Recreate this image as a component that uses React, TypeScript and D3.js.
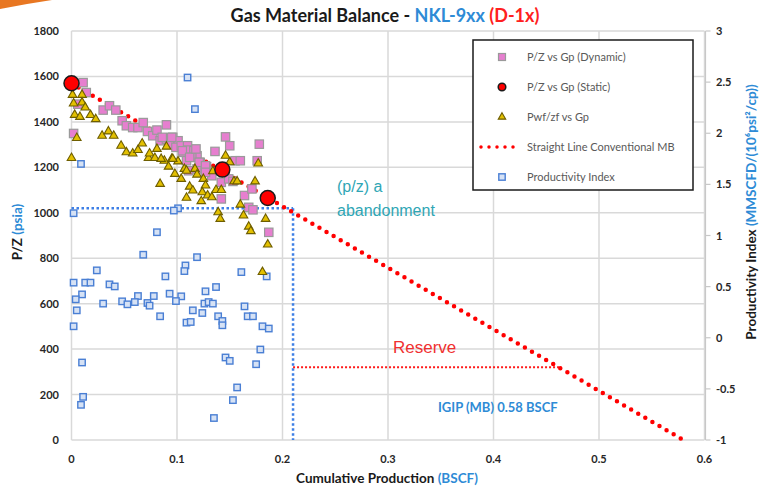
import * as React from "react";
import * as d3 from "d3";

// P/Z vs Gp (Dynamic)
const dynGp = [0.011, 0.002, 0.014, 0.006, 0.030, 0.036, 0.042, 0.048, 0.052, 0.058, 0.063, 0.068, 0.072, 0.077,
  0.081, 0.090, 0.084, 0.090, 0.096, 0.101, 0.093, 0.099, 0.104, 0.110, 0.106, 0.111, 0.116, 0.119, 0.114, 0.122,
  0.128, 0.133, 0.136, 0.146, 0.150, 0.155, 0.160, 0.178, 0.176, 0.142, 0.149, 0.153, 0.142, 0.164, 0.171, 0.168,
  0.172, 0.187, 0.111, 0.119, 0.109, 0.086, 0.095, 0.105, 0.112, 0.118, 0.121, 0.127, 0.127];
const dynPz = [1573, 1349, 1529, 1478, 1452, 1471, 1452, 1405, 1383, 1375, 1375, 1397, 1358, 1339,
  1364, 1387, 1317, 1324, 1332, 1317, 1302, 1288, 1295, 1295, 1266, 1276, 1273, 1251, 1244, 1222,
  1203, 1163, 1270, 1334, 1295, 1229, 1229, 1302, 1229, 1134, 1149, 1138, 1061, 1076, 1105, 1024,
  1013, 914, 1185, 1193, 1229, 1332, 1332, 1273, 1244, 1281, 1222, 1207, 1178];

// P/Z vs Gp (Static)
const staticGp = [0, 0.143, 0.186];
const staticPz = [1570, 1190, 1065];

// Pwf/zf vs Gp
const pwfGp = [0.001, 0.010, 0.002, 0.010, 0.013, 0.003, 0.008, 0.018, 0.023, 0.005, 0.029, 0.035, 0.040, 0.047,
  0.052, 0.058, 0.063, 0.067, 0.073, 0.074, 0.081, 0.079, 0.090, 0.088, 0.095, 0.092, 0.098, 0.000, 0.084, 0.101,
  0.085, 0.096, 0.104, 0.107, 0.109, 0.112, 0.115, 0.109, 0.117, 0.119, 0.125, 0.127, 0.124, 0.129, 0.133, 0.123,
  0.134, 0.146, 0.150, 0.137, 0.142, 0.154, 0.157, 0.174, 0.177, 0.160, 0.139, 0.141, 0.163, 0.184, 0.168, 0.170,
  0.186, 0.181];
const pwfPz = [1519, 1519, 1481, 1485, 1463, 1431, 1422, 1430, 1412, 1329, 1339, 1358, 1339, 1295,
  1266, 1261, 1276, 1305, 1241, 1261, 1281, 1241, 1291, 1229, 1237, 1203, 1171, 1241, 1127, 1226,
  1237, 1237, 1149, 1193, 1185, 1115, 1098, 1066, 1193, 1168, 1149, 1120, 1090, 1076, 1068, 1051,
  1183, 1251, 1222, 1100, 1100, 1138, 1138, 1138, 1217, 1036, 1002, 973, 988, 973, 939, 919,
  860, 739];

// Productivity Index
const piGp = [0.110, 0.117, 0.009, 0.002, 0.101, 0.097, 0.081, 0.068, 0.119, 0.108, 0.107, 0.024, 0.161, 0.185,
  0.089, 0.002, 0.013, 0.018, 0.036, 0.041, 0.137, 0.127, 0.010, 0.004, 0.063, 0.078, 0.093, 0.104, 0.099, 0.030,
  0.048, 0.053, 0.060, 0.072, 0.074, 0.005, 0.084, 0.115, 0.126, 0.130, 0.134, 0.124, 0.139, 0.143, 0.143, 0.109,
  0.113, 0.164, 0.167, 0.172, 0.181, 0.187, 0.002, 0.179, 0.146, 0.150, 0.175, 0.010, 0.157, 0.153, 0.011, 0.009,
  0.135];
const piVal = [2.545, 2.236, 1.700, 1.218, 1.266, 1.244, 1.032, 0.812, 0.788, 0.707, 0.652, 0.659, 0.642, 0.600,
  0.600, 0.539, 0.539, 0.539, 0.522, 0.502, 0.496, 0.454, 0.424, 0.376, 0.408, 0.408, 0.431, 0.405, 0.359, 0.334,
  0.356, 0.327, 0.349, 0.340, 0.314, 0.268, 0.210, 0.268, 0.334, 0.349, 0.334, 0.242, 0.210, 0.164, 0.122, 0.148,
  0.154, 0.307, 0.210, 0.210, 0.112, 0.090, 0.112, -0.115, -0.193, -0.226, -0.259, -0.242, -0.486, -0.610, -0.578, -0.656,
  -0.785];

// Straight line conventional MB and annotations
const mbGp = [0, 0.58];
const mbPz = [1570, 0];
const abandonPz = 1020;
const abandonGp = 0.21;
const reservePz = 320;
const reserveGp = [0.21, 0.462];

const xTicks = [0, 0.1, 0.2, 0.3, 0.4, 0.5, 0.6];
const yTicks = [0, 200, 400, 600, 800, 1000, 1200, 1400, 1600, 1800];
const rTicks = [-1, -0.5, 0, 0.5, 1, 1.5, 2, 2.5, 3];

const font = "Lato, Carlito, 'Open Sans', sans-serif";
const blue = "#2e8bd6";

const tri = d3.symbol().type(d3.symbolTriangle).size(32)();

export default function App() {
  const x = d3.scaleLinear().domain([0, 0.6]).range([71.5, 704.5]);
  const y = d3.scaleLinear().domain([0, 1800]).range([440, 31]);
  const yR = d3.scaleLinear().domain([-1, 3]).range([440, 31]);
  const line = d3.line<number>().x((d, i) => x(mbGp[i])).y((d) => y(d));

  const pinkSq = (cx: number, cy: number, k: any) => (
    <rect key={k} x={cx - 4.2} y={cy - 4.2} width={8.4} height={8.4} fill="#e67fcf" stroke="#9a9a9a" strokeWidth={1.2} />
  );
  const yTri = (cx: number, cy: number, k: any) => (
    <path key={k} d={tri} transform={`translate(${cx},${cy})`} fill="#e3c000" stroke="#6e5e00" strokeWidth={1.1} />
  );
  const blueSq = (cx: number, cy: number, k: any) => (
    <rect key={k} x={cx - 3.2} y={cy - 3.2} width={6.4} height={6.4} fill="#d6e2f5" stroke="#4a7fd4" strokeWidth={1.4} />
  );
  const redDot = (cx: number, cy: number, k: any, r = 7.5) => (
    <circle key={k} cx={cx} cy={cy} r={r} fill="#ff0000" stroke="#1a1a1a" strokeWidth={1.5} />
  );

  const legendItems = [
    "P/Z vs Gp (Dynamic)",
    "P/Z vs Gp (Static)",
    "Pwf/zf vs Gp",
    "Straight Line Conventional MB",
    "Productivity Index",
  ];

  return (
    <svg width={761} height={493} style={{ position: "absolute", left: 0, top: 0, background: "#fff" }} fontFamily={font}>
      <path d="M0,0 L52,0 Q25,4 0,9 Z" fill="#e87722" />
      <text x={385} y={22} textAnchor="middle" fontSize={18} fontWeight="bold" fill="#1a1a1a">
        Gas Material Balance - <tspan fill={blue}>NKL-9xx</tspan> <tspan fill="#ff2020">(D-1x)</tspan>
      </text>

      {/* grid */}
      {xTicks.map((t) => (
        <line key={"gx" + t} x1={x(t)} x2={x(t)} y1={y(1800)} y2={y(0)} stroke="#d9d9d9" strokeWidth={1.5} />
      ))}
      {yTicks.map((t) => (
        <line key={"gy" + t} x1={x(0)} x2={x(0.6)} y1={y(t)} y2={y(t)} stroke="#d9d9d9" strokeWidth={1.5} />
      ))}
      <line x1={x(0.6) + 1} x2={x(0.6) + 1} y1={y(1800)} y2={y(0)} stroke="#c8c8c8" strokeWidth={1.2} />
      {rTicks.map((t) => (
        <line key={"rt" + t} x1={x(0.6) + 1} x2={x(0.6) + 6} y1={yR(t)} y2={yR(t)} stroke="#c8c8c8" strokeWidth={1.2} />
      ))}

      {/* tick labels */}
      {yTicks.map((t) => (
        <text key={"yl" + t} x={59} y={y(t) + 4} textAnchor="end" fontSize={11} fontWeight="bold" fill="#262626">{t}</text>
      ))}
      {xTicks.map((t) => (
        <text key={"xl" + t} x={x(t)} y={463} textAnchor="middle" fontSize={11} fontWeight="bold" fill="#262626">{t}</text>
      ))}
      {rTicks.map((t) => (
        <text key={"rl" + t} x={716} y={yR(t) + 4} fontSize={11} fontWeight="bold" fill="#262626">{t}</text>
      ))}

      {/* axis titles */}
      <text x={387} y={483} textAnchor="middle" fontSize={13.5} fontWeight="bold" fill="#1a1a1a">
        Cumulative Production <tspan fill={blue}>(BSCF)</tspan>
      </text>
      <text transform="translate(22,232) rotate(-90)" textAnchor="middle" fontSize={13.5} fontWeight="bold" fill="#1a1a1a">
        P/Z <tspan fill={blue}>(psia)</tspan>
      </text>
      <text transform="translate(756,212) rotate(-90)" textAnchor="middle" fontSize={13.5} fontWeight="bold" fill="#1a1a1a">
        Productivity Index <tspan fill={blue}>(MMSCFD/(10⁶psi²/cp))</tspan>
      </text>

      {/* abandonment + reserve lines */}
      <line x1={x(0)} x2={x(abandonGp)} y1={y(abandonPz)} y2={y(abandonPz)} stroke="#3d7fe6" strokeWidth={2.5} strokeDasharray="2.5 2.5" />
      <line x1={x(abandonGp)} x2={x(abandonGp)} y1={y(abandonPz)} y2={y(0)} stroke="#3d7fe6" strokeWidth={2.5} strokeDasharray="2.5 2.5" />
      <line x1={x(reserveGp[0])} x2={x(reserveGp[1])} y1={y(reservePz)} y2={y(reservePz)} stroke="#ff1a1a" strokeWidth={2} strokeDasharray="2 2" />

      {/* series */}
      {piGp.map((g, i) => blueSq(x(g), yR(piVal[i]), "pi" + i))}
      <path d={line(mbPz) || ""} fill="none" stroke="#ff0000" strokeWidth={4.5} strokeLinecap="round" strokeDasharray="0 8.2" />
      {dynGp.map((g, i) => pinkSq(x(g), y(dynPz[i]), "dy" + i))}
      {pwfGp.map((g, i) => yTri(x(g), y(pwfPz[i]), "pw" + i))}
      {staticGp.map((g, i) => redDot(x(g), y(staticPz[i]), "st" + i))}

      {/* annotations */}
      <text x={337} y={192} fontSize={16} fill="#2fa6b5" fontFamily="'Liberation Sans', Arial, sans-serif">(p/z) a</text>
      <text x={337} y={216} fontSize={16} fill="#2fa6b5" fontFamily="'Liberation Sans', Arial, sans-serif">abandonment</text>
      <text x={393} y={353} fontSize={17} fill="#f03030" fontFamily="'Liberation Sans', Arial, sans-serif">Reserve</text>
      <text x={438} y={412} fontSize={13} fontWeight="bold" fill={blue}>IGIP (MB) 0.58 BSCF</text>

      {/* legend */}
      <rect x={473} y={40} width={220} height={150} fill="#fff" stroke="#1a1a1a" strokeWidth={1.5} />
      {legendItems.map((s, i) => {
        const ly = 57 + i * 30;
        return (
          <g key={"lg" + i}>
            {i === 0 && <rect x={498.5} y={ly - 3.5} width={7} height={7} fill="#e67fcf" stroke="#9a9a9a" strokeWidth={1.2} />}
            {i === 1 && redDot(502, ly, "l1", 3.8)}
            {i === 2 && <path d={d3.symbol().type(d3.symbolTriangle).size(24)() || ""} transform={`translate(502,${ly})`} fill="#e3c000" stroke="#6e5e00" strokeWidth={1.1} />}
            {i === 3 && (
              <line x1={481} x2={521} y1={ly} y2={ly} stroke="#ff0000" strokeWidth={3.5} strokeLinecap="round" strokeDasharray="0 8" />
            )}
            {i === 4 && blueSq(502, ly, "l4")}
            <text x={527} y={ly + 4} fontSize={11} fill="#595959">{s}</text>
          </g>
        );
      })}
    </svg>
  );
}
